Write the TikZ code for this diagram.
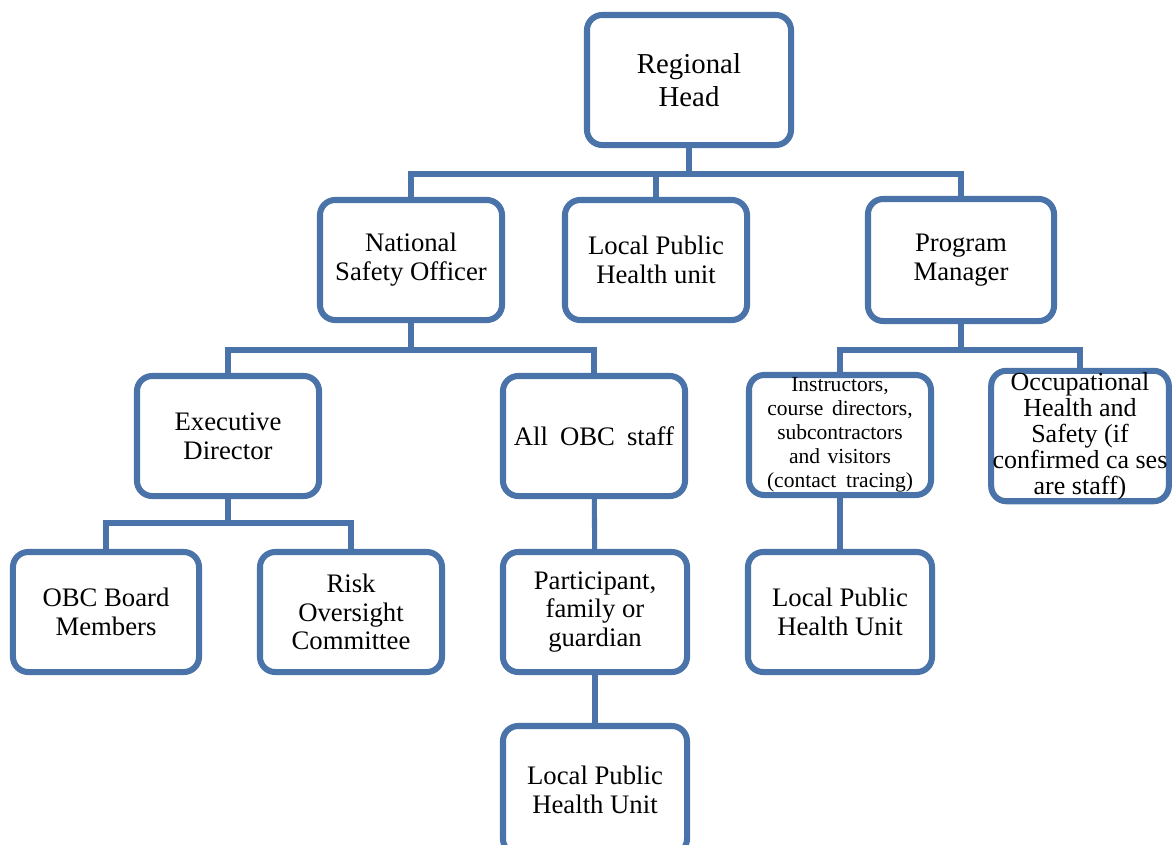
\documentclass[tikz,border=0pt]{standalone}
\usepackage{fontspec}
\setmainfont{Liberation Serif}
\usetikzlibrary{positioning}
\definecolor{orgblue}{HTML}{4A73AA}
\begin{document}
\begin{tikzpicture}[x=0.025cm,y=-0.025cm,
	unitbox/.style={draw=orgblue,line width=4.3pt,rounded corners=0.38cm,fill=white,
		align=center,minimum width=4.55cm,minimum height=3.0cm,inner sep=1pt,
		font=\fontsize{19}{20.5}\selectfont},
	link/.style={draw=orgblue,line width=3.6pt}]
\useasboundingbox (0,0) rectangle (1172,844);
\clip (0,0) rectangle (1172,844);
% Top level
\node[unitbox,minimum width=5.1cm,minimum height=3.25cm,font=\fontsize{20.5}{23.5}\selectfont] (head) at (689,80) {Regional\\Head};
\coordinate (bar1) at (0,174);
% Second level
\node[unitbox] (nso) at (411,260) {National\\Safety Officer};
\node[unitbox] (lphuA) at (656,260) {Local Public\\Health unit};
\node[unitbox,minimum width=4.65cm,minimum height=3.05cm] (pm) at (961,260) {Program\\Manager};
\coordinate (bar2) at (0,350);
% Third level
\node[unitbox] (ed) at (228,436) {Executive\\Director};
\node[unitbox] (staff) at (594,436) {All\hspace{0.45em}OBC\hspace{0.45em}staff};
\node[unitbox,font=\fontsize{15.3}{17}\selectfont] (instr) at (840,435)
	{Instructors,\\course\hspace{0.4em}directors,\\subcontractors\\and\hspace{0.35em}visitors\\(contact\hspace{0.45em}tracing)};
\node[unitbox,minimum width=4.4cm,font=\fontsize{18.5}{18.5}\selectfont] (occ) at (1080,436)
	{Occupational\\Health and\\Safety (if\\confirmed ca ses\\are staff)};
\coordinate (bar3) at (0,523);
% Fourth level
\node[unitbox,minimum width=4.65cm] (board) at (106,612) {OBC Board\\Members};
\node[unitbox] (risk) at (351,612) {Risk\\Oversight\\Committee};
\node[unitbox,minimum width=4.6cm] (part) at (595,612) {Participant,\\family or\\guardian};
\node[unitbox,minimum width=4.6cm] (lphuB) at (840,612) {Local Public\\Health Unit};
% Fifth level
\node[unitbox,minimum width=4.6cm,minimum height=3.2cm] (lphuC) at (595,790) {Local Public\\Health Unit};
% Connectors
\draw[link] (head.south) -- (head.south |- bar1);
\draw[link] (nso.north) |- (pm.north |- bar1) -- (pm.north);
\draw[link] (lphuA.north) -- (lphuA.north |- bar1);
\draw[link] (nso.south) -- (nso.south |- bar2);
\draw[link] (ed.north) |- (staff.north |- bar2) -- (staff.north);
\draw[link] (pm.south) -- (pm.south |- bar2);
\draw[link] (instr.north) |- (occ.north |- bar2) -- (occ.north);
\draw[link] (ed.south) -- (ed.south |- bar3);
\draw[link] (board.north) |- (risk.north |- bar3) -- (risk.north);
\draw[link] (staff) -- (part);
\draw[link] (part) -- (lphuC);
\draw[link] (instr) -- (lphuB);
\end{tikzpicture}
\end{document}
